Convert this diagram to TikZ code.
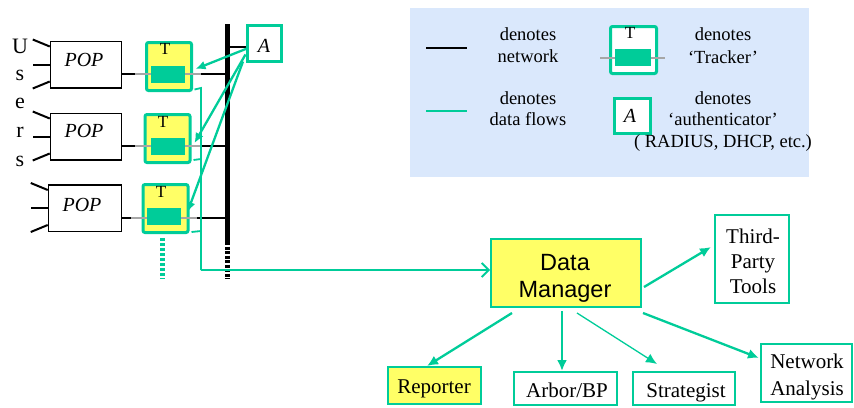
\documentclass[tikz,border=0pt]{standalone}
\usepackage{fontspec}
\setmainfont{Liberation Serif}
\newfontfamily\arialf{Liberation Sans}
\usetikzlibrary{arrows.meta,calc}
\definecolor{flow}{HTML}{00CC99}
\definecolor{hl}{HTML}{FFFF66}
\definecolor{legbg}{HTML}{DAE8FC}
\definecolor{wire}{HTML}{A6A6A6}
\begin{document}
\begin{tikzpicture}[x=1pt,y=-1pt,
  txt/.style={inner sep=0pt, anchor=base},
  usr/.style={txt, font=\fontsize{22}{22}\selectfont},
  poptxt/.style={txt, font=\fontsize{20}{20}\selectfont\itshape},
  ttxt/.style={txt, font=\fontsize{17}{17}\selectfont},
  legtxt/.style={txt, font=\fontsize{18.5}{18.5}\selectfont},
  boxtxt/.style={txt, font=\fontsize{21}{21}\selectfont},
  dmtxt/.style={txt, font=\fontsize{23.5}{23.5}\selectfont\arialf},
  net/.style={draw=black, line width=1.5pt},
  userline/.style={draw=black, line width=2pt},
  popbox/.style={draw=black, line width=1.5pt, minimum width=71pt, minimum height=46.5pt, inner sep=0pt},
  trk/.style={draw=flow, fill=hl, line width=3pt, rounded corners=2pt, minimum width=45pt, minimum height=48pt, inner sep=0pt},
  trkin/.style={fill=flow, minimum width=34pt, minimum height=17pt, inner sep=0pt},
  grayline/.style={draw=wire, line width=2pt},
  authbox/.style={draw=flow, fill=white, line width=3pt, minimum width=34pt, minimum height=36pt, inner sep=0pt},
  flowline/.style={draw=flow, line width=1.8pt},
  flowarrow/.style={draw=flow, line width=2.3pt, -{Latex[length=11pt,width=10pt]}},
  outbox/.style={draw=flow, line width=2pt, inner sep=0pt},
]
\useasboundingbox (0,0) rectangle (854,407);

% ---------- legend ----------
\fill[legbg] (410,8) rectangle (809,177);
\coordinate (lnA) at (426,48); \coordinate (lnB) at (467,48);
\draw[black, line width=2pt] (lnA) -- (lnB);
\coordinate (lfA) at (426,111); \coordinate (lfB) at (467,111);
\draw[flow, line width=2.5pt] (lfA) -- (lfB);
\node[legtxt] (l1a) at (528,40) {denotes};
\node[legtxt] (l1b) at (528,62) {network};
\node[legtxt] (l2a) at (528,104) {denotes};
\node[legtxt] (l2b) at (528,125) {data flows};
\node[trk, fill=white, minimum width=46pt, minimum height=47pt] (ltrk) at (633.5,50) {};
\coordinate (lgA) at (600,58); \coordinate (lgB) at (665,58);
\draw[grayline] (lgA) -- (lgB);
\node[trkin, minimum width=36pt] (ltrkin) at (633,57.5) {};
\node[ttxt] (lT) at (630,38) {T};
\node[legtxt] (l3a) at (723,40) {denotes};
\node[legtxt] (l3b) at (723,63) {‘Tracker’};
\node[authbox, minimum width=36pt, minimum height=35pt] (lauth) at (632.5,116) {};
\node[poptxt] (lA) at (630,122) {A};
\node[legtxt] (l4a) at (723,104) {denotes};
\node[legtxt] (l4b) at (723,125) {‘authenticator’};
\node[legtxt] (l4c) at (723,147) {( RADIUS, DHCP, etc.)};

% ---------- users ----------
\node[usr] (u1) at (20,53) {U};
\node[usr] (u2) at (20,80) {s};
\node[usr] (u3) at (20,108) {e};
\node[usr] (u4) at (20,137) {r};
\node[usr] (u5) at (20,166) {s};

% ---------- POPs ----------
\node[popbox] (pop1) at (86,64.5) {};
\node[popbox] (pop2) at (86,136.5) {};
\node[popbox, minimum width=73pt] (pop3) at (85,208) {};
\node[poptxt] (p1) at (84,66) {POP};
\node[poptxt] (p2) at (84,137) {POP};
\node[poptxt] (p3) at (82,211) {POP};
\foreach \p in {pop1,pop2,pop3}{
  \draw[userline] ($(\p.north west)+(0,6)$) -- ++(-17,-7);
  \draw[userline] (\p.west) -- ++(-17,0);
  \draw[userline] ($(\p.south west)+(0,-7)$) -- ++(-17,7);
}

% ---------- network bar ----------
\coordinate (bartop) at (227,24);
\coordinate (barmid) at (227,242);
\coordinate (barbot) at (227,279);
\draw[black, line width=5pt] (bartop) -- (barmid);
\draw[black, line width=5pt, dash pattern=on 3.2pt off 1.3pt] (barmid) -- (barbot);

% ---------- trackers ----------
\coordinate (w1a) at (135,74);  \coordinate (w1b) at (201,74);
\coordinate (w2a) at (135,146); \coordinate (w2b) at (200,146);
\coordinate (w3a) at (131,218); \coordinate (w3b) at (197,218);
\draw[net] (pop1.east |- w1a) -- (w1a);
\draw[net] (w1b) -- (bartop |- w1b);
\draw[net] (pop2.east |- w2a) -- (w2a);
\draw[net] (w2b) -- (bartop |- w2b);
\draw[net] (pop3.east |- w3a) -- (w3a);
\draw[net] (w3b) -- (bartop |- w3b);

\node[trk] (t1) at (169,66.5) {};
\node[trk] (t2) at (167.5,138.5) {};
\node[trk] (t3) at (165.5,208.5) {};
\draw[grayline] (w1a) -- (w1b);
\draw[grayline] (w2a) -- (w2b);
\draw[grayline] (w3a) -- (w3b);
\node[trkin] (t1in) at (168,74.5) {};
\node[trkin] (t2in) at (168,146) {};
\node[trkin] (t3in) at (164,216) {};
\node[ttxt] (T1) at (165,54) {T};
\node[ttxt] (T2) at (163,127) {T};
\node[ttxt] (T3) at (161,197) {T};

% dotted continuation
\coordinate (more1) at (162,238);
\coordinate (more2) at (162,279);
\draw[flow, line width=5pt, dash pattern=on 3pt off 2pt] (more1) -- (more2);

% ---------- authenticator ----------
\node[authbox] (A) at (264.5,43.5) {};
\node[poptxt] (Atxt) at (264,52) {A};
\coordinate (abar) at (227,47);
\draw[net] (abar) -- (A.west |- abar);
\draw[flowarrow, -{Latex[length=10pt,width=9pt]}] ($(A.west)+(1,5)$) -- ($(t1.east)+(2.5,2.5)$);
\draw[flowarrow, -{Latex[length=10pt,width=9pt]}] ($(A.west)+(-0.5,11)$) -- ($(t2.east)+(3,4.5)$);
\draw[flowarrow, -{Latex[length=10pt,width=9pt]}] ($(A.west)+(-3,18)$) -- ($(t3.east)+(-2,3.5)$);

% ---------- data manager and tools ----------
\node[outbox, fill=hl, minimum width=150pt, minimum height=68pt] (DM) at (566,273) {};
\node[dmtxt] (dm1) at (565,270) {Data};
\node[dmtxt] (dm2) at (565,297) {Manager};

\node[outbox, minimum width=74pt, minimum height=88pt] (TP) at (752,259) {};
\node[boxtxt] (tp1) at (753,243) {Third-};
\node[boxtxt] (tp2) at (753,268) {Party};
\node[boxtxt] (tp3) at (753,293) {Tools};

\node[outbox, fill=hl, minimum width=93pt, minimum height=37pt] (REP) at (434.5,385.5) {};
\node[boxtxt] (rep) at (434,393) {Reporter};
\node[outbox, minimum width=103pt, minimum height=33pt] (ARB) at (565.5,388.5) {};
\node[boxtxt] (arb) at (567,397) {Arbor/BP};
\node[outbox, minimum width=102pt, minimum height=33pt] (STR) at (684,388.5) {};
\node[boxtxt] (str) at (686,397) {Strategist};
\node[outbox, minimum width=91pt, minimum height=58pt] (NA) at (806.5,373) {};
\node[boxtxt] (na1) at (807,368) {Network};
\node[boxtxt] (na2) at (807,395) {Analysis};

% ---------- data flows into data manager ----------
\coordinate (fx1) at (201,88);
\coordinate (fx2) at (201,159);
\coordinate (fx3) at (201,231);
\coordinate (fbend) at (201,270);
\draw[flowline] ($(t1.south east)+(1.5,-2.5)$) -- (fx1) -- (fbend);
\draw[flowline, -{Straight Barb[length=7pt,width=14pt]}] (fbend) -- (DM.west |- fbend);
\draw[flowline] ($(t2.south east)+(2,-4)$) -- (fx2);
\draw[flowline] ($(t3.south east)+(2,-2)$) -- (fx3);

% ---------- outputs ----------
\draw[flowarrow] ($(DM.east)+(2,14)$) -- ($(TP.west)+(-3,-12)$);
\draw[flowarrow] ($(DM.south west)+(22,5)$) -- ($(REP.north)+(-7.5,0)$);
\draw[flowarrow] ($(DM.south)+(-4,3)$) -- ($(ARB.north)+(-3.5,0)$);
\draw[flowarrow, line width=1.3pt] ($(DM.south)+(11,5)$) -- ($(STR.north)+(-27,-7)$);
\draw[flowarrow] ($(DM.south east)+(1,5)$) -- ($(NA.west)+(-1,-15)$);
\end{tikzpicture}
\end{document}
